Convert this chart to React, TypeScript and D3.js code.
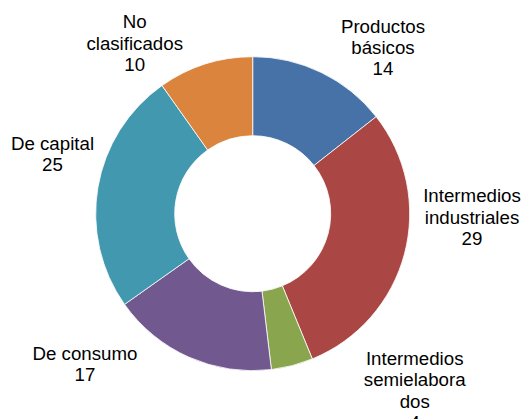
import React from "react";
import * as d3 from "d3";

const categories: string[][] = [
  ["Productos", "básicos"],
  ["Intermedios", "industriales"],
  ["Intermedios", "semielabora", "dos"],
  ["De consumo"],
  ["De capital"],
  ["No", "clasificados"],
];
const values: number[] = [14.4, 29.4, 4.3, 17.1, 25.0, 9.8];
const colors: string[] = ["#4672A8", "#AA4744", "#89A54E", "#71588F", "#4198AF", "#DB843D"];

// label anchor (center x, first baseline y) — layout only
const labelPos: [number, number][] = [
  [383, 32.7],
  [472, 202.3],
  [414.7, 365],
  [85, 360],
  [52.5, 150],
  [134.7, 28.3],
];

const W = 523;
const H = 419;
const cx = 252.7;
const cy = 213.7;
const rOuter = 157;
const rInner = 78;
const lineH = 21.3;

export default function App() {
  const pie = d3
    .pie<number>()
    .sort(null)
    .value((d) => d)
    .startAngle(0)
    .endAngle(2 * Math.PI);
  const arcs = pie(values);
  const arc = d3.arc<d3.PieArcDatum<number>>().innerRadius(rInner).outerRadius(rOuter);

  return (
    <svg
      width={W}
      height={H}
      style={{ position: "absolute", left: 0, top: 0, background: "#fff" }}
      fontFamily="'Liberation Sans', Arial, sans-serif"
    >
      <g transform={`translate(${cx},${cy})`}>
        {arcs.map((a, i) => (
          <path key={i} d={arc(a) || ""} fill={colors[i]} stroke="#fff" strokeWidth={0.8} />
        ))}
      </g>
      {categories.map((lines, i) => {
        const [x, y] = labelPos[i];
        const all = [...lines, String(Math.round(values[i]))];
        return (
          <text key={i} textAnchor="middle" fontSize={18.7} fill="#000">
            {all.map((t, j) => (
              <tspan key={j} x={x} y={y + j * lineH}>
                {t}
              </tspan>
            ))}
          </text>
        );
      })}
    </svg>
  );
}
